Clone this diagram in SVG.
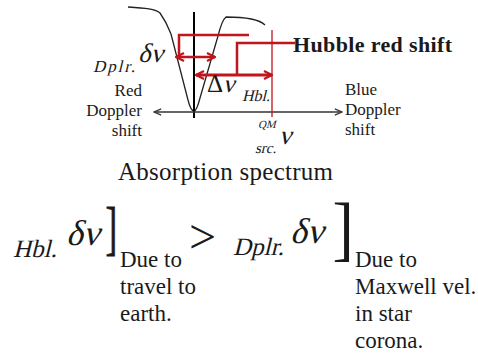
<svg xmlns="http://www.w3.org/2000/svg" width="478" height="356" viewBox="0 0 478 356">
<style>
.s{font-family:"Liberation Serif","Times New Roman",serif;fill:#1a1a1a}
.b{font-weight:bold}
.red{stroke:#c0151d;fill:none}
</style>
<defs>
<marker id="ra" viewBox="0 0 10 10" refX="9" refY="5" markerWidth="10" markerHeight="10" markerUnits="userSpaceOnUse" orient="auto-start-reverse">
<path d="M1,1 L9,5 L1,9" fill="none" stroke="#c0151d" stroke-width="2.2"/>
</marker>
<marker id="ka" viewBox="0 0 10 10" refX="9" refY="5" markerWidth="9" markerHeight="9" markerUnits="userSpaceOnUse" orient="auto-start-reverse">
<path d="M1,1.5 L9,5 L1,8.5" fill="none" stroke="#333" stroke-width="1.3"/>
</marker>
</defs>
<rect width="478" height="356" fill="#fff"/>
<g id="spectrum">
<path d="M128,7 C145,8 156,9 160,13 C165,20 168,26 171,34 L188,100 C190,108 192,111 194,111 C196,111 198,106 200,98 L218,36 C220,28 222,20 226,17 C240,17 258,18 265,25" fill="none" stroke="#222" stroke-width="1.3"/>
<line x1="194" y1="12" x2="194" y2="118" stroke="#000" stroke-width="2"/>
</g>
<g id="connectors">
<line x1="154" y1="112" x2="342" y2="112" stroke="#333" stroke-width="1.3" marker-start="url(#ka)" marker-end="url(#ka)"/>
<line x1="272" y1="30" x2="272" y2="117" class="red" stroke-width="1.3"/>
<polyline points="249,35 179,35 179,57" class="red" stroke-width="2.5"/>
<line x1="176" y1="57" x2="215" y2="57" class="red" stroke-width="2.5" marker-start="url(#ra)" marker-end="url(#ra)"/>
<polyline points="295,43 237,43 237,75" class="red" stroke-width="2.5"/>
<line x1="196" y1="75" x2="272" y2="75" class="red" stroke-width="3" marker-start="url(#ra)" marker-end="url(#ra)"/>
</g>
<g id="dplr-label">
<text class="s" transform="translate(93,72) skewX(-14)" font-size="17" textLength="42">Dplr.</text>
<text class="s" transform="translate(138,62) skewX(-14)" font-size="27">δν</text>
</g>
<g id="hbl-label">
<text class="s" x="207" y="92" font-size="25">Δ</text>
<text class="s" transform="translate(223,92) skewX(-14)" font-size="25">ν</text>
<text class="s" transform="translate(242,101) skewX(-14)" font-size="16">Hbl.</text>
</g>
<g id="hubble">
<text class="s b" x="293" y="52" font-size="22" textLength="159">Hubble red shift</text>
</g>
<g id="red-doppler">
<text class="s" x="142" y="96" font-size="17" text-anchor="end">Red</text>
<text class="s" x="142" y="116" font-size="17" text-anchor="end">Doppler</text>
<text class="s" x="142" y="136" font-size="17" text-anchor="end">shift</text>
</g>
<g id="blue-doppler">
<text class="s" x="345" y="95" font-size="17">Blue</text>
<text class="s" x="345" y="115" font-size="17">Doppler</text>
<text class="s" x="345" y="135" font-size="17">shift</text>
</g>
<g id="src">
<text class="s" transform="translate(258,128) skewX(-14)" font-size="11">QM</text>
<text class="s" transform="translate(279,144) skewX(-14)" font-size="27">ν</text>
<text class="s" transform="translate(255,153) skewX(-14)" font-size="15">src.</text>
</g>
<g id="title">
<text class="s" x="118" y="180" font-size="25" textLength="215">Absorption spectrum</text>
</g>
<g id="hbl-term">
<text class="s" transform="translate(13,257) skewX(-14)" font-size="25">Hbl.</text>
<text class="s" transform="translate(66,245) skewX(-14)" font-size="36">δν</text>
<text class="s" font-size="58.7" transform="translate(105.4,247.8) scale(0.6,1)" stroke="#1a1a1a" stroke-width="0.8">]</text>
<text class="s" x="120" y="267" font-size="23">Due to</text>
<text class="s" x="120" y="294" font-size="23">travel to</text>
<text class="s" x="120" y="321" font-size="23">earth.</text>
</g>
<g id="gt">
<text class="s" x="189" y="253" font-size="48">&gt;</text>
</g>
<g id="dplr-term">
<text class="s" transform="translate(233,255) skewX(-14)" font-size="25">Dplr.</text>
<text class="s" transform="translate(290,243) skewX(-14)" font-size="36">δν</text>
<text class="s" font-size="70.9" transform="translate(332.4,251.9) scale(0.9,1)">]</text>
<text class="s" x="355" y="267" font-size="23">Due to</text>
<text class="s" x="355" y="294" font-size="23">Maxwell vel.</text>
<text class="s" x="355" y="321" font-size="23">in star</text>
<text class="s" x="355" y="348" font-size="23">corona.</text>
</g>
</svg>
